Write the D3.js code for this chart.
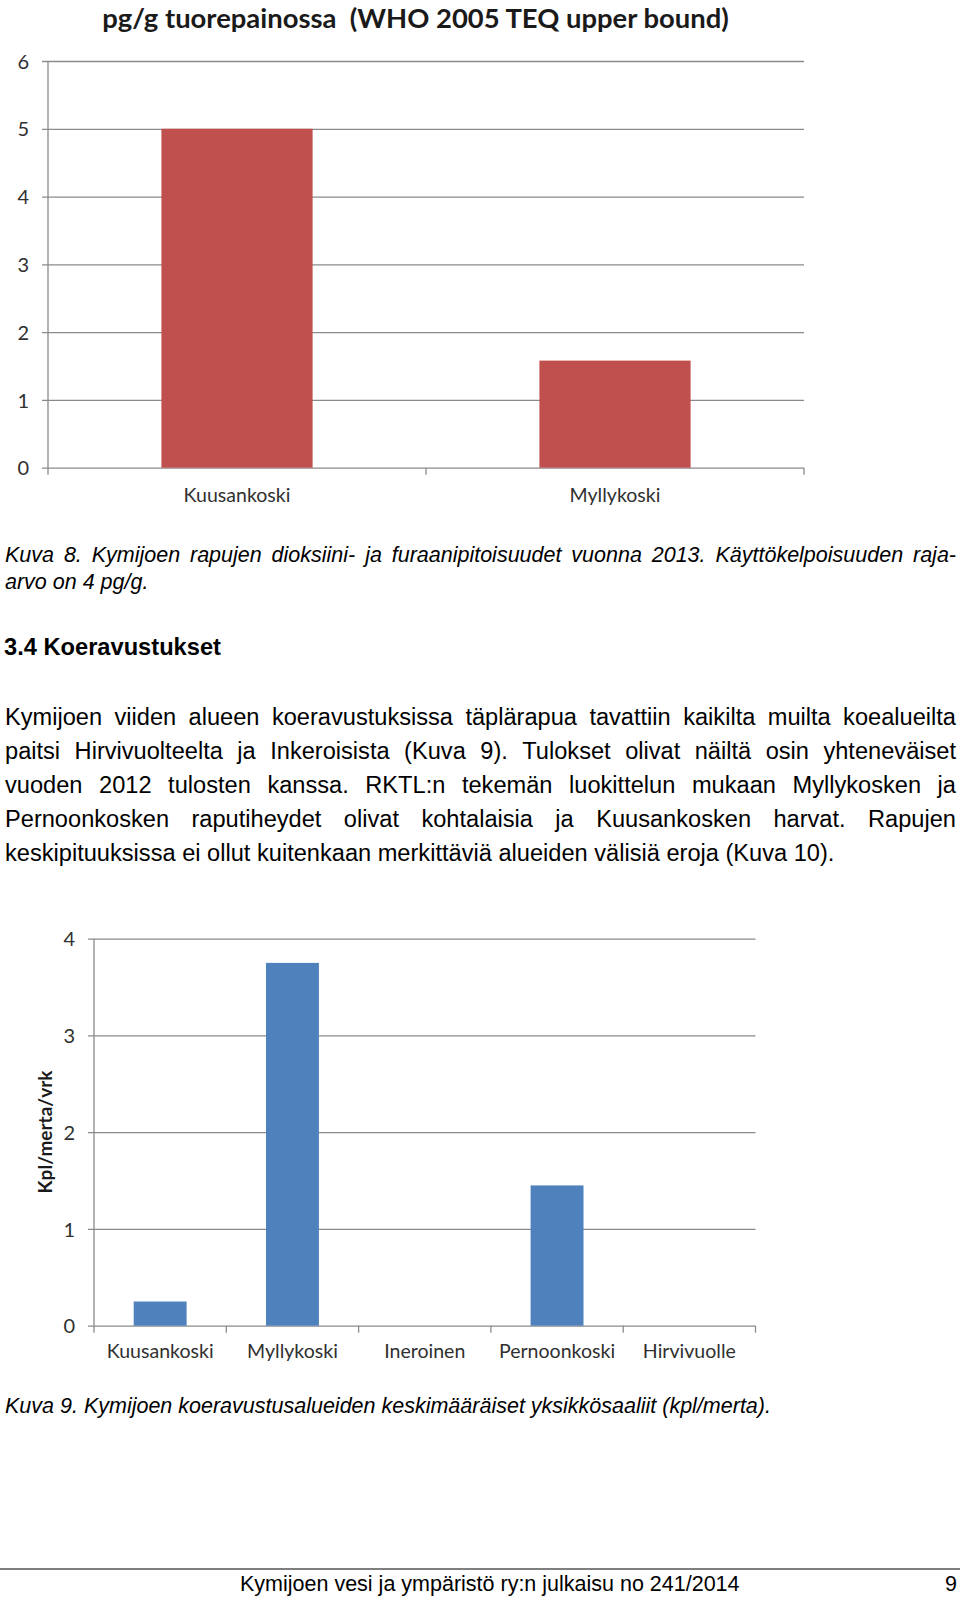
<!DOCTYPE html>
<html>
<head>
<meta charset="utf-8">
<script src="https://cdn.jsdelivr.net/npm/d3@7"></script>
<style>
  body { margin: 0; background: #fff; }
  svg { display: block; }
</style>
</head>
<body>
<svg id="page" width="960" height="1597"></svg>
<script>
// ---------- DATA ----------
const chart1Title = "pg/g tuorepainossa  (WHO 2005 TEQ upper bound)";
const chart1Categories = ["Kuusankoski", "Myllykoski"];
const chart1Values = [5.0, 1.58];
const chart1Ticks = [0, 1, 2, 3, 4, 5, 6];

const chart2AxisTitle = "Kpl/merta/vrk";
const chart2Categories = ["Kuusankoski", "Myllykoski", "Ineroinen", "Pernoonkoski", "Hirvivuolle"];
const chart2Values = [0.25, 3.75, 0, 1.45, 0];
const chart2Ticks = [0, 1, 2, 3, 4];

const caption8Lines = [
  "Kuva 8. Kymijoen rapujen dioksiini- ja furaanipitoisuudet vuonna 2013. Käyttökelpoisuuden raja-",
  "arvo on 4 pg/g."
];
const headingText = "3.4 Koeravustukset";
const bodyLines = [
  "Kymijoen viiden alueen koeravustuksissa täplärapua tavattiin kaikilta muilta koealueilta",
  "paitsi Hirvivuolteelta ja Inkeroisista (Kuva 9). Tulokset olivat näiltä osin yhteneväiset",
  "vuoden 2012 tulosten kanssa. RKTL:n tekemän luokittelun mukaan Myllykosken ja",
  "Pernoonkosken raputiheydet olivat kohtalaisia ja Kuusankosken harvat. Rapujen",
  "keskipituuksissa ei ollut kuitenkaan merkittäviä alueiden välisiä eroja (Kuva 10)."
];
const caption9Text = "Kuva 9. Kymijoen koeravustusalueiden keskimääräiset yksikkösaaliit (kpl/merta).";
const footerText = "Kymijoen vesi ja ympäristö ry:n julkaisu no 241/2014";
const footerPage = "9";

// ---------- STYLE ----------
const chartFont = "Lato, 'Open Sans', 'DejaVu Sans', sans-serif";
const docFont = "'Liberation Sans', Arial, Helvetica, sans-serif";
const chartText = "#303030";
const gridColor = "#8a8a8a";

const svg = d3.select("#page");

function fitSize(text, family, weight, style, baseSize, targetWidth) {
  const t = svg.append("text")
    .attr("font-family", family).attr("font-weight", weight).attr("font-style", style)
    .attr("font-size", baseSize).style("white-space", "pre").text(text);
  const w = t.node().getComputedTextLength();
  t.remove();
  return baseSize * targetWidth / w;
}

function barChart(cfg) {
  const g = svg.append("g");
  const y = d3.scaleLinear().domain([0, d3.max(cfg.ticks)]).range([cfg.bottom, cfg.top]);
  const x = d3.scaleBand().domain(cfg.categories).range([cfg.left, cfg.right]).paddingInner(0).paddingOuter(0);
  const w = cfg.right - cfg.left;

  const ya = g.append("g").attr("transform", `translate(${cfg.left},0)`)
    .call(d3.axisLeft(y).tickValues(cfg.ticks).tickFormat(d3.format("d"))
      .tickSizeInner(-w).tickSizeOuter(0).tickPadding(cfg.tickPad));
  ya.select(".domain").remove();
  ya.selectAll(".tick line").attr("x1", -6).attr("stroke", gridColor).attr("stroke-width", 1.3);
  ya.selectAll(".tick text").attr("font-family", chartFont).attr("font-size", cfg.tickFont)
    .attr("fill", chartText).attr("dy", "0.36em");

  g.append("line").attr("x1", cfg.left).attr("x2", cfg.left)
    .attr("y1", y(d3.max(cfg.ticks))).attr("y2", y(0) + 7)
    .attr("stroke", gridColor).attr("stroke-width", 1.3);

  const bounds = cfg.categories.map(c => x(c)).concat([cfg.right]).slice(1);
  g.selectAll(".btick").data(bounds).enter().append("line")
    .attr("x1", d => d).attr("x2", d => d)
    .attr("y1", y(0)).attr("y2", y(0) + 7)
    .attr("stroke", gridColor).attr("stroke-width", 1.3);

  const bw = x.bandwidth();
  g.selectAll(".bar").data(cfg.values).enter().append("rect")
    .attr("x", (d, i) => x(cfg.categories[i]) + bw * 0.3)
    .attr("width", bw * 0.4)
    .attr("y", d => y(d))
    .attr("height", d => y(0) - y(d))
    .attr("fill", cfg.color);

  const xa = g.append("g").attr("transform", `translate(0,${y(0)})`)
    .call(d3.axisBottom(x).tickSize(0).tickPadding(cfg.labelPad));
  xa.select(".domain").remove();
  xa.selectAll(".tick text").attr("font-family", chartFont).attr("font-size", cfg.labelFont)
    .attr("fill", chartText);
  return { x, y };
}

// ---------- CHART 1 ----------
const titleSize = fitSize(chart1Title, chartFont, "bold", "normal", 24, 627);
svg.append("text")
  .attr("x", 415.5).attr("y", 28)
  .attr("text-anchor", "middle")
  .attr("font-family", chartFont).attr("font-weight", "bold").attr("font-size", titleSize)
  .attr("fill", "#1a1a1a").style("white-space", "pre")
  .text(chart1Title);

const labelSize = fitSize(chart1Categories[0], chartFont, "normal", "normal", 18, 107);

barChart({
  left: 48, right: 804, top: 61, bottom: 467.7,
  categories: chart1Categories, values: chart1Values, ticks: chart1Ticks,
  color: "#C0504D", tickFont: 20, labelFont: labelSize, tickPad: 19, labelPad: 20
});

// ---------- CHART 2 ----------
barChart({
  left: 94, right: 755.5, top: 938.7, bottom: 1325.7,
  categories: chart2Categories, values: chart2Values, ticks: chart2Ticks,
  color: "#4F81BD", tickFont: 20, labelFont: labelSize, tickPad: 19, labelPad: 18
});
svg.append("text")
  .attr("transform", "translate(45,1132) rotate(-90)")
  .attr("text-anchor", "middle").attr("dy", "0.36em")
  .attr("font-family", chartFont).attr("font-weight", "bold").attr("font-size", 19)
  .attr("fill", "#1a1a1a")
  .text(chart2AxisTitle);

// ---------- DOCUMENT TEXT ----------
function justifiedLine(text, x0, x1, yb, size, weight, style) {
  const words = text.split(" ");
  const t = svg.append("text").attr("y", yb)
    .attr("font-family", docFont).attr("font-size", size)
    .attr("font-weight", weight).attr("font-style", style).attr("fill", "#000");
  const spans = words.map(wd => t.append("tspan").text(wd));
  const widths = spans.map(s => s.node().getComputedTextLength());
  const gap = (x1 - x0 - d3.sum(widths)) / (words.length - 1);
  let cx = x0;
  spans.forEach((s, i) => { s.attr("x", cx); cx += widths[i] + gap; });
}
function plainLine(text, x0, yb, size, weight, style) {
  svg.append("text").attr("x", x0).attr("y", yb)
    .attr("font-family", docFont).attr("font-size", size)
    .attr("font-weight", weight).attr("font-style", style).attr("fill", "#000")
    .text(text);
}

const capSize = fitSize(caption9Text, docFont, "normal", "italic", 20, 766);
justifiedLine(caption8Lines[0], 5, 956, 562, capSize, "normal", "italic");
plainLine(caption8Lines[1], 5, 588.5, capSize, "normal", "italic");

const headSize = fitSize(headingText, docFont, "bold", "normal", 22, 217);
plainLine(headingText, 4, 655, headSize, "bold", "normal");

const bodySize = fitSize(bodyLines[4], docFont, "normal", "normal", 22, 830);
const bodyBase = [725, 759, 793, 827, 861];
bodyLines.forEach((ln, i) => {
  if (i < bodyLines.length - 1) justifiedLine(ln, 5, 956, bodyBase[i], bodySize, "normal", "normal");
  else plainLine(ln, 5, bodyBase[i], bodySize, "normal", "normal");
});

plainLine(caption9Text, 5, 1413, capSize, "normal", "italic");

svg.append("line").attr("x1", 0).attr("x2", 960).attr("y1", 1569).attr("y2", 1569)
  .attr("stroke", "#000").attr("stroke-width", 1.2);
const footSize = fitSize(footerText, docFont, "normal", "normal", 20, 500);
plainLine(footerText, 240, 1591, footSize, "normal", "normal");
svg.append("text").attr("x", 957).attr("y", 1591).attr("text-anchor", "end")
  .attr("font-family", docFont).attr("font-size", footSize).text(footerPage);
</script>
</body>
</html>
